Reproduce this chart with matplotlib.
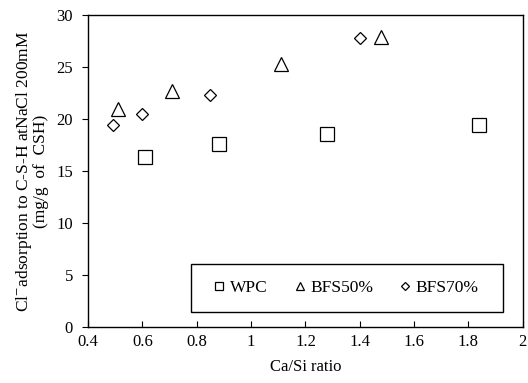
import matplotlib
matplotlib.use("Agg")
import matplotlib.pyplot as plt
from matplotlib.patches import Rectangle

plt.rcParams["font.family"] = ["Liberation Serif", "DejaVu Serif"]
plt.rcParams["mathtext.fontset"] = "stix"

WPC_X = [0.61, 0.88, 1.28, 1.84]
WPC_Y = [16.4, 17.6, 18.6, 19.4]
BFS50_X = [0.51, 0.71, 1.11, 1.48]
BFS50_Y = [21.0, 22.7, 25.3, 27.9]
BFS70_X = [0.49, 0.60, 0.85, 1.40]
BFS70_Y = [19.4, 20.5, 22.3, 27.8]

X_TICKS = [0.4, 0.6, 0.8, 1, 1.2, 1.4, 1.6, 1.8, 2]
X_TICK_LABELS = ["0.4", "0.6", "0.8", "1", "1.2", "1.4", "1.6", "1.8", "2"]
Y_TICKS = [0, 5, 10, 15, 20, 25, 30]


def main():
    fig = plt.figure(figsize=(5.28, 3.83), dpi=100)
    ax = fig.add_axes([0.167, 0.145, 0.823, 0.816])

    style = dict(linestyle="none", markerfacecolor="white", markeredgecolor="black",
                 markeredgewidth=0.9)
    ax.plot(WPC_X, WPC_Y, marker="s", markersize=9.5, label="WPC", **style)
    ax.plot(BFS50_X, BFS50_Y, marker="^", markersize=10, label="BFS50%", **style)
    ax.plot(BFS70_X, BFS70_Y, marker="D", markersize=6.5, label="BFS70%", **style)

    ax.set_xlim(0.4, 2)
    ax.set_ylim(0, 30)
    ax.set_xticks(X_TICKS)
    ax.set_xticklabels(X_TICK_LABELS)
    ax.set_yticks(Y_TICKS)
    ax.tick_params(axis="x", direction="in", length=4, labelsize=12, pad=5)
    ax.tick_params(axis="y", direction="out", length=4, labelsize=12, pad=7)
    for s in ax.spines.values():
        s.set_linewidth(1.0)

    ax.set_xlabel("Ca/Si ratio", fontsize=12, labelpad=6)
    ax.set_ylabel("Cl$^{-}$adsorption to C-S-H atNaCl 200mM\n(mg/g  of  CSH)",
                  fontsize=12.5, labelpad=5, linespacing=0.95)

    # legend box
    ax.add_patch(Rectangle((0.237, 0.050), 0.717, 0.154, transform=ax.transAxes,
                           facecolor="white", edgecolor="black", linewidth=1.0, zorder=3))
    leg = ax.legend(loc="center", bbox_to_anchor=(0.5955, 0.127), ncol=3,
                    fontsize=12.5, frameon=False, markerscale=0.6,
                    handlelength=0.5, handletextpad=0.35, columnspacing=1.6)
    leg.set_zorder(4)

    fig.savefig("out.png", dpi=100)
    plt.close(fig)


if __name__ == "__main__":
    main()
